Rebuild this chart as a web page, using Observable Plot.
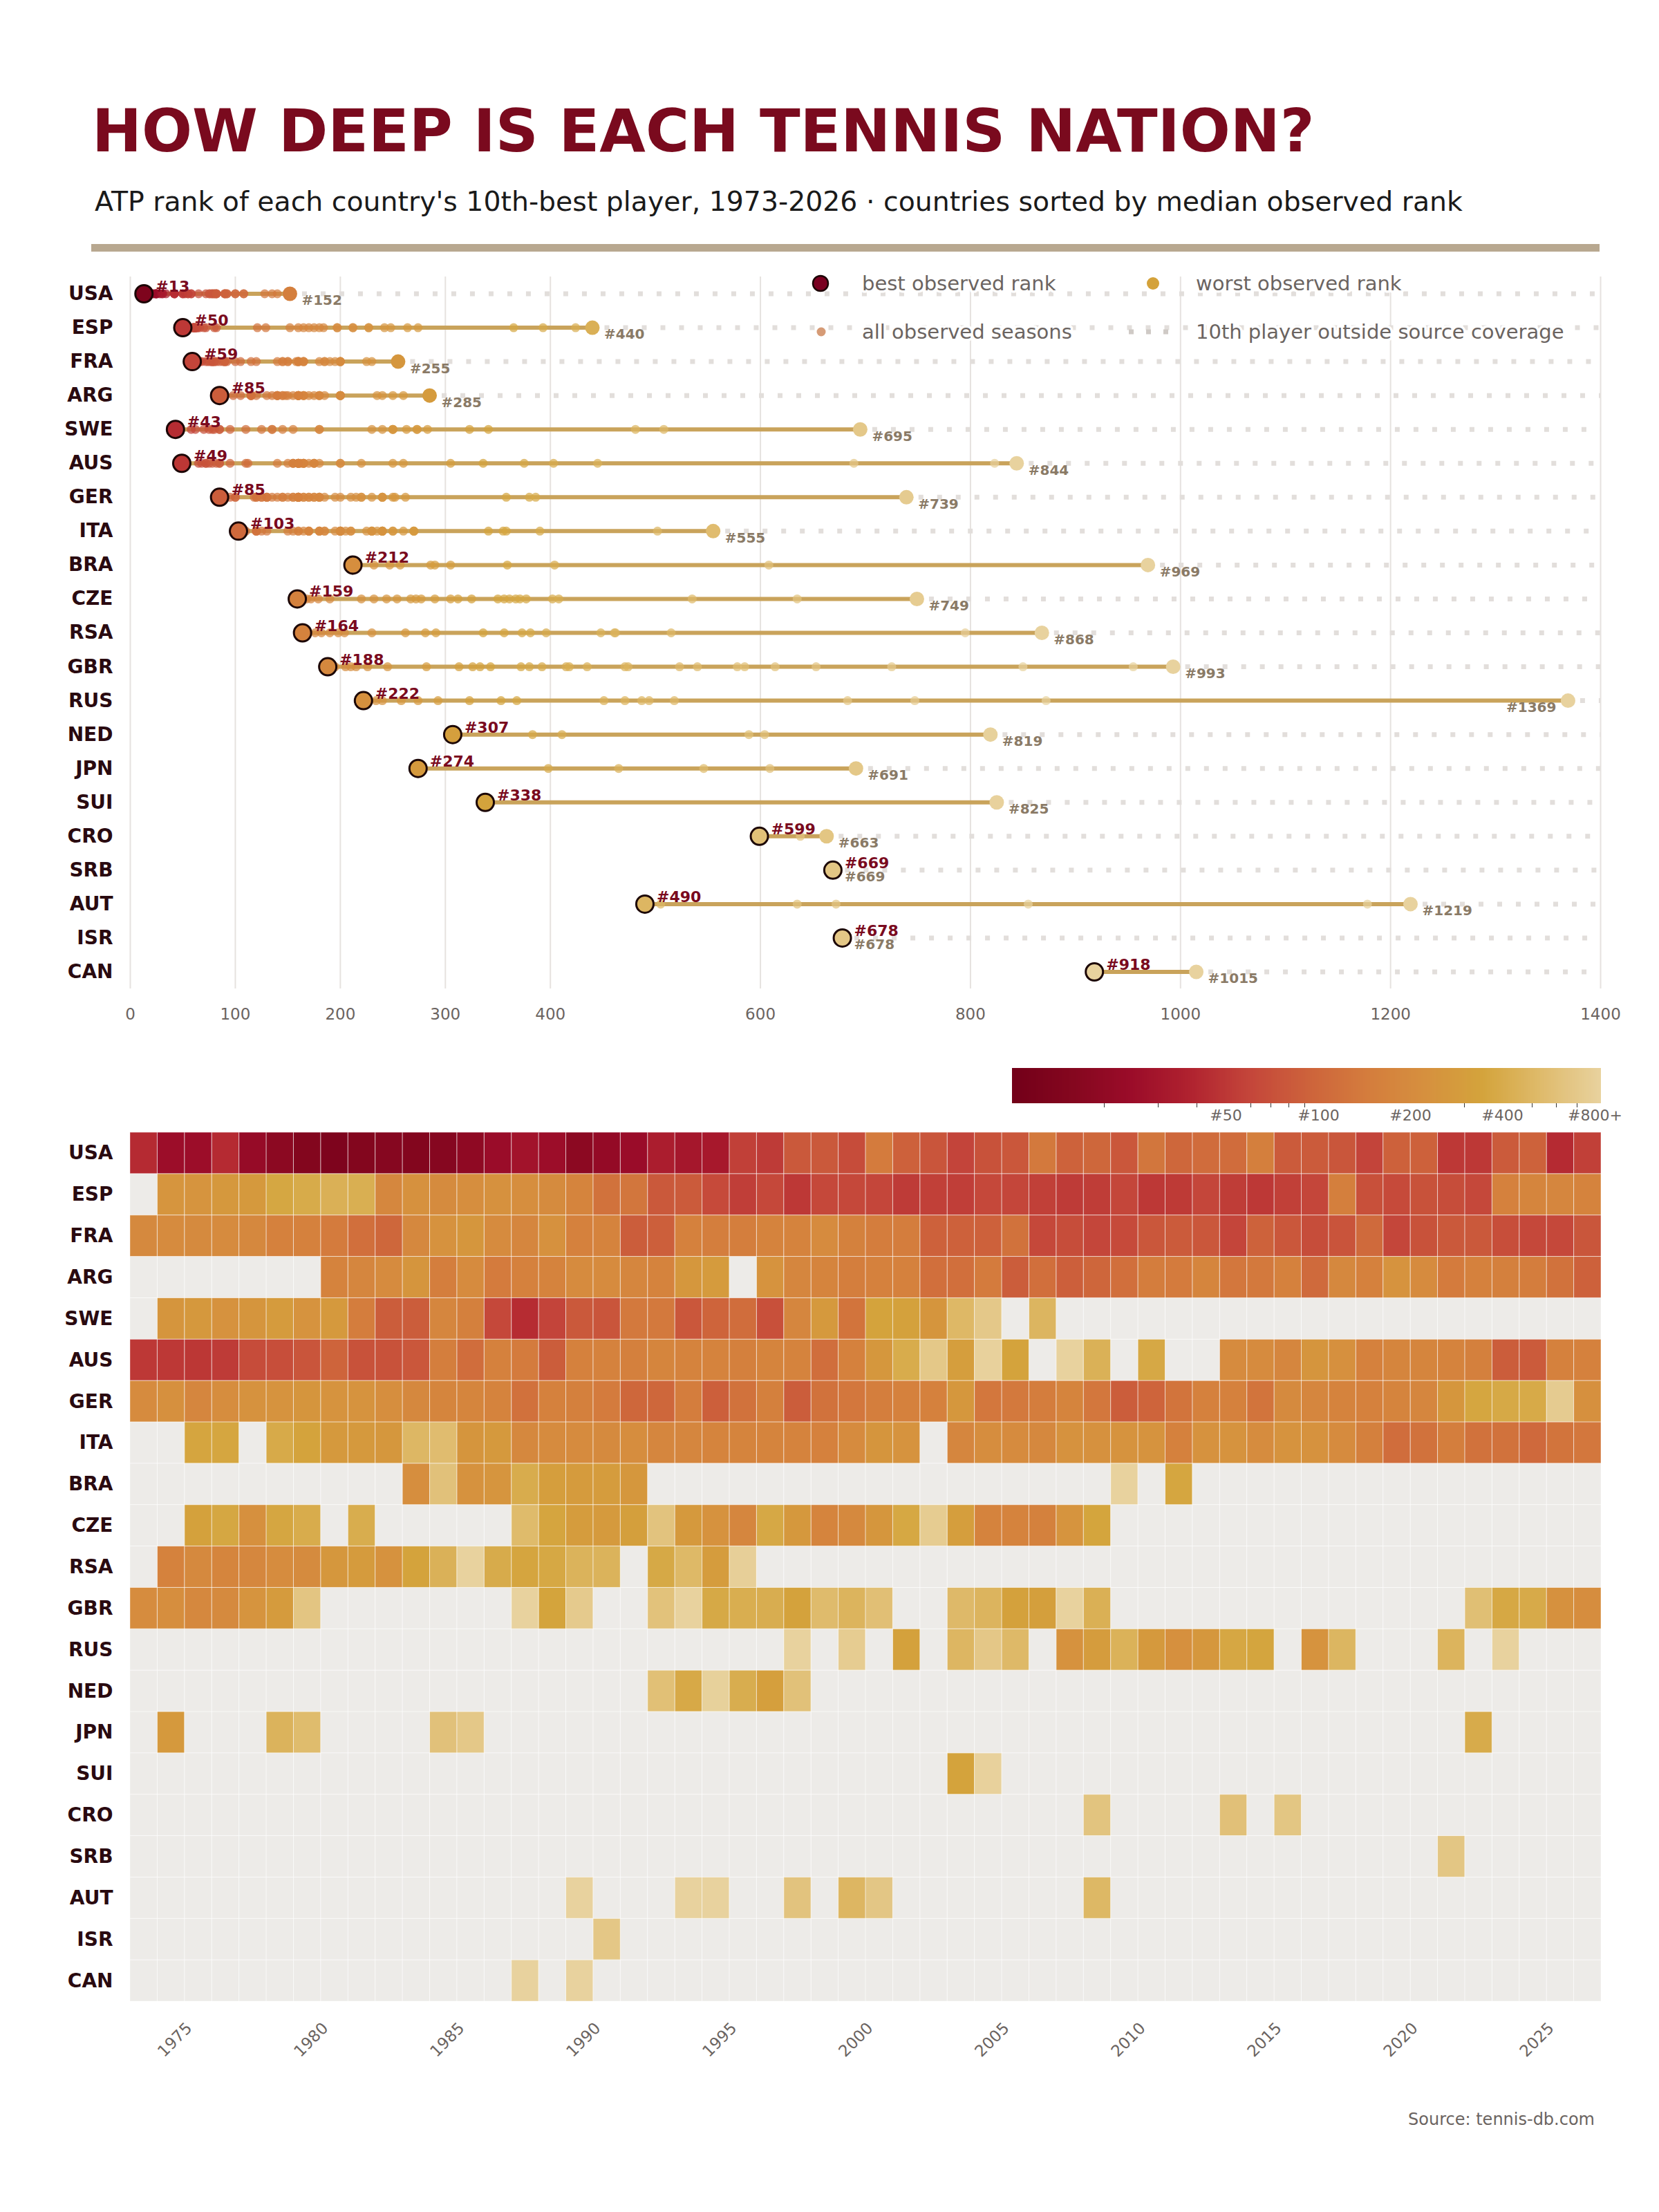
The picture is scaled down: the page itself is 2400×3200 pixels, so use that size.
<!DOCTYPE html>
<html><head><meta charset="utf-8">
<script src="https://cdn.jsdelivr.net/npm/d3@7"></script>
<script src="https://cdn.jsdelivr.net/npm/@observablehq/plot@0.6"></script>
<style>
html,body{margin:0;padding:0;background:#fff;}
#root{position:relative;width:2400px;height:3200px;font-family:"DejaVu Sans",sans-serif;overflow:hidden;}
.abs{position:absolute;left:0;}
</style></head><body><div id="root"></div>
<script>
const N = null;
const countries = ["USA","ESP","FRA","ARG","SWE","AUS","GER","ITA","BRA","CZE","RSA","GBR","RUS","NED","JPN","SUI","CRO","SRB","AUT","ISR","CAN"];
const years = [1973,1974,1975,1976,1977,1978,1979,1980,1981,1982,1983,1984,1985,1986,1987,1988,1989,1990,1991,1992,1993,1994,1995,1996,1997,1998,1999,2000,2001,2002,2003,2004,2005,2006,2007,2008,2009,2010,2011,2012,2013,2014,2015,2016,2017,2018,2019,2020,2021,2022,2023,2024,2025,2026];
const yearTicks = [1975,1980,1985,1990,1995,2000,2005,2010,2015,2020,2025];
const rankTicks = [0,100,200,300,400,600,800,1000,1200,1400];
const legendTicks = [20,30,40,50,60,70,80,90,100,200,300,400,500,600,700,800];
const legendLabels = [50,100,200,400,800];

// ATP rank of each country's 10th-best player, one entry per season 1973..2026 (null = outside source coverage)
const rankUSA = [42,25,25,42,22,18,15,13,15,16, 15,16,19,24,28,25,18,21,24,34, 30,31,55,52,80,80,65,140,90,75, 58,72,78,135,92,100,78,128,100,108, 108,152,82,82,76,58,90,90,50,50, 82,92,42,55];
const rankESP = [N,248,242,264,274,365,393,440,424,184, 227,197,212,227,212,197,170,121,129,80, 82,64,54,62,50,62,62,60,52,55, 54,62,60,55,52,53,60,50,51,60, 53,50,55,60,152,70,64,72,66,62, 160,175,180,165];
const rankFRA = [190,200,195,200,185,160,160,140,115,100, 185,230,255,200,180,225,160,165,85,88, 160,150,150,165,165,200,158,145,145,90, 90,90,120,62,66,60,64,78,82,78, 59,92,78,66,74,105,60,72,80,80, 68,62,62,76];
const rankARG = [N,N,N,N,N,N,N,165,180,200, 250,150,200,140,160,165,200,200,180,165, 260,285,N,235,180,170,148,160,160,115, 115,140,85,115,88,98,115,145,140,175, 130,135,160,105,185,160,240,200,140,160, 155,145,120,90];
const rankSWE = [N,250,263,230,250,283,240,273,145,85, 85,180,155,62,43,58,80,75,135,135, 78,95,110,70,180,273,125,341,323,250, 508,695,N,481,N,N,N,N,N,N, N,N,N,N,N,N,N,N,N,N, N,N,N,N];
const rankAUS = [50,50,49,52,65,68,75,95,72,72, 78,150,110,160,140,85,160,162,155,175, 165,165,155,170,165,112,160,260,403,689, 305,823,336,N,844,445,N,375,N,N, 200,200,180,250,220,160,175,175,165,155, 85,82,160,160];
const rankGER = [200,220,180,210,230,240,250,240,240,215, 185,175,175,165,118,160,155,140,100,100, 145,88,120,155,85,120,130,150,160,160, 262,130,135,145,170,130,85,95,125,160, 160,125,195,180,165,160,170,180,252,358, 380,386,739,220];
const rankITA = [N,N,355,358,N,390,341,270,270,260, 502,555,250,270,185,200,200,195,210,180, 180,170,170,170,165,160,200,250,240,N, 180,210,200,185,230,225,240,240,160,230, 235,205,240,230,200,155,110,120,150,120, 120,103,125,130];
const rankBRA = [N,N,N,N,N,N,N,N,N,N, 212,608,232,247,404,305,286,290,257,N, N,N,N,N,N,N,N,N,N,N, N,N,N,N,N,N,969,N,359,N, N,N,N,N,N,N,N,N,N,N, N,N,N,N];
const rankCZE = [N,N,325,367,220,361,402,N,408,N, N,N,N,N,535,356,290,277,312,635, 272,232,179,377,267,172,190,254,371,749, 305,165,168,159,244,350,N,N,N,N, N,N,N,N,N,N,N,N,N,N, N,N,N,N];
const rankRSA = [N,164,190,176,182,204,198,262,281,230, 336,448,868,396,356,373,461,462,N,381, 515,291,795,N,N,N,N,N,N,N, N,N,N,N,N,N,N,N,N,N, N,N,N,N,N,N,N,N,N,N, N,N,N,N];
const rankGBR = [205,215,188,195,245,282,653,N,N,N, N,N,N,N,955,343,725,N,N,614, 850,380,418,415,333,540,471,585,N,N, 523,474,326,313,993,435,N,N,N,N, N,N,N,N,N,N,N,N,N,578, 372,392,226,210];
const rankRUS = [N,N,N,N,N,N,N,N,N,N, N,N,N,N,N,N,N,N,N,N, N,N,N,N,872,N,747,N,323,N, 494,683,518,N,234,293,451,274,222,258, 368,353,N,240,487,N,N,N,471,N, 1369,N,N,N];
const rankNED = [N,N,N,N,N,N,N,N,N,N, N,N,N,N,N,N,N,N,N,589, 383,819,411,307,604,N,N,N,N,N, N,N,N,N,N,N,N,N,N,N, N,N,N,N,N,N,N,N,N,N, N,N,N,N];
const rankJPN = [N,274,N,N,N,465,546,N,N,N, N,609,691,N,N,N,N,N,N,N, N,N,N,N,N,N,N,N,N,N, N,N,N,N,N,N,N,N,N,N, N,N,N,N,N,N,N,N,N,398, N,N,N,N];
const rankSUI = [N,N,N,N,N,N,N,N,N,N, N,N,N,N,N,N,N,N,N,N, N,N,N,N,N,N,N,N,N,N, 338,825,N,N,N,N,N,N,N,N, N,N,N,N,N,N,N,N,N,N, N,N,N,N];
const rankCRO = [N,N,N,N,N,N,N,N,N,N, N,N,N,N,N,N,N,N,N,N, N,N,N,N,N,N,N,N,N,N, N,N,N,N,N,638,N,N,N,N, 599,N,663,N,N,N,N,N,N,N, N,N,N,N];
const rankSRB = [N,N,N,N,N,N,N,N,N,N, N,N,N,N,N,N,N,N,N,N, N,N,N,N,N,N,N,N,N,N, N,N,N,N,N,N,N,N,N,N, N,N,N,N,N,N,N,N,669,N, N,N,N,N];
const rankAUT = [N,N,N,N,N,N,N,N,N,N, N,N,N,N,N,N,855,N,N,N, 1178,1219,N,N,635,N,490,672,N,N, N,N,N,N,N,505,N,N,N,N, N,N,N,N,N,N,N,N,N,N, N,N,N,N];
const rankISR = [N,N,N,N,N,N,N,N,N,N, N,N,N,N,N,N,N,678,N,N, N,N,N,N,N,N,N,N,N,N, N,N,N,N,N,N,N,N,N,N, N,N,N,N,N,N,N,N,N,N, N,N,N,N];
const rankCAN = [N,N,N,N,N,N,N,N,N,N, N,N,N,N,918,N,1015,N,N,N, N,N,N,N,N,N,N,N,N,N, N,N,N,N,N,N,N,N,N,N, N,N,N,N,N,N,N,N,N,N, N,N,N,N];

const rankTable = {USA:rankUSA, ESP:rankESP, FRA:rankFRA, ARG:rankARG, SWE:rankSWE, AUS:rankAUS, GER:rankGER, ITA:rankITA, BRA:rankBRA, CZE:rankCZE, RSA:rankRSA, GBR:rankGBR, RUS:rankRUS, NED:rankNED, JPN:rankJPN, SUI:rankSUI, CRO:rankCRO, SRB:rankSRB, AUT:rankAUT, ISR:rankISR, CAN:rankCAN};

const cells = [];
countries.forEach(c => rankTable[c].forEach((r, i) => cells.push({country: c, year: years[i], rank: r})));
const observed = cells.filter(d => d.rank != null);
const summary = countries.map(c => {
  const v = rankTable[c].filter(r => r != null);
  return {country: c, best: d3.min(v), worst: d3.max(v)};
});

const FONT = "DejaVu Sans";
const rankMax = 1400;
const flipAt = 1300;
const stops = ["#730019","#85071f","#9b0c29","#b0222f","#c4453a","#cd623b","#d47c3d","#d6903e","#d4a43c","#dfbb6c","#e8d29e"];
const colorOpts = {type: "log", domain: [10, 840], clamp: true, interpolate: d3.piecewise(d3.interpolateRgb, stops)};

const root = document.getElementById("root");
function place(el, top, left = 0) {
  const div = document.createElement("div");
  div.className = "abs";
  div.style.top = top + "px";
  div.style.left = left + "px";
  div.appendChild(el);
  root.appendChild(div);
  return div;
}

// ---------- top chart: range of observed ranks ----------
const topPlot = Plot.plot({
  width: 2400, height: 1120,
  marginLeft: 188, marginRight: 85, marginTop: 30, marginBottom: 60,
  style: {fontFamily: FONT, background: "transparent", maxWidth: "none", overflow: "visible"},
  x: {domain: [0, rankMax], axis: null},
  y: {type: "band", domain: countries, axis: null, padding: 0, round: false},
  color: colorOpts,
  marks: [
    Plot.ruleX(rankTicks, {x: d => d, stroke: "#e6e2df", strokeWidth: 2}),
    Plot.ruleY(summary, {y: "country", x1: "worst", x2: () => rankMax, stroke: "#e2dedb", strokeWidth: 7, strokeDasharray: "7,20", strokeDashoffset: -18}),
    Plot.ruleY(summary, {y: "country", x1: "best", x2: "worst", stroke: "#c9a35b", strokeWidth: 6}),
    Plot.dot(observed, {x: "rank", y: "country", r: 6.5, fill: "rank", fillOpacity: 0.72}),
    Plot.dot(summary, {x: "worst", y: "country", r: 10.5, fill: "worst"}),
    Plot.dot(summary, {x: "best", y: "country", r: 12.5, fill: "best", stroke: "#1c0606", strokeWidth: 3}),
    Plot.text(summary, {x: "best", y: "country", text: d => "#" + d.best, dx: 17, dy: -10, textAnchor: "start", fill: "#7a0a1e", fontWeight: "bold", fontSize: 22}),
    Plot.text(summary, {filter: d => d.worst < flipAt, x: "worst", y: "country", text: d => "#" + d.worst, dx: 17, dy: 10, textAnchor: "start", fill: "#8a7a66", fontWeight: "bold", fontSize: 20}),
    Plot.text(summary, {filter: d => d.worst >= flipAt, x: "worst", y: "country", text: d => "#" + d.worst, dx: -17, dy: 10, textAnchor: "end", fill: "#8a7a66", fontWeight: "bold", fontSize: 20}),
    Plot.text(countries, {y: d => d, text: d => d, frameAnchor: "left", dx: -25, textAnchor: "end", fontWeight: "bold", fontSize: 28, fill: "#2a0a10"}),
    Plot.text(rankTicks, {x: d => d, text: d => String(d), frameAnchor: "bottom", lineAnchor: "top", dy: 28, fontSize: 23, fill: "#6b6461"})
  ]
});
place(topPlot, 370);

// ---------- colour legend ----------
const leg = Plot.legend({
  color: colorOpts, legend: "ramp",
  width: 902, height: 90, marginTop: 0, marginBottom: 39, marginLeft: 0, marginRight: 50,
  ticks: legendTicks, tickSize: 6, label: null,
  tickFormat: d => legendLabels.includes(d) ? (d === 800 ? "#800+" : "#" + d) : "",
  style: {fontFamily: FONT, fontSize: "22px", color: "#6b6461", background: "transparent", overflow: "visible", maxWidth: "none"}
});
d3.select(leg).selectAll(".tick").each(function() {
  const g = d3.select(this);
  const label = g.select("text").text();
  if (label) g.select("line").remove();
  else g.select("line").attr("y1", 0).attr("stroke", "#333");
});
place(leg, 1545, 1464);

// ---------- heatmap ----------
const heat = Plot.plot({
  width: 2400, height: 1367,
  marginLeft: 188, marginRight: 84, marginTop: 0, marginBottom: 110,
  style: {fontFamily: FONT, background: "transparent", maxWidth: "none", overflow: "visible"},
  x: {type: "band", domain: years, padding: 0, round: false, axis: null},
  y: {type: "band", domain: countries, padding: 0, round: false, axis: null},
  color: colorOpts,
  marks: [
    Plot.cell(cells, {x: "year", y: "country", fill: "#edebe8"}),
    Plot.cell(observed, {x: "year", y: "country", fill: "rank"}),
    Plot.cell(cells, {x: "year", y: "country", fill: "none", stroke: "#ffffff", strokeOpacity: 0.4, strokeWidth: 1}),
    Plot.text(countries, {y: d => d, text: d => d, frameAnchor: "left", dx: -25, textAnchor: "end", fontWeight: "bold", fontSize: 28, fill: "#2a0a10"}),
    Plot.text(yearTicks, {x: d => d, text: d => String(d), frameAnchor: "bottom", rotate: -45, textAnchor: "end", dx: -8, dy: 40, fontSize: 23, fill: "#6b6461"})
  ]
});
place(heat, 1638);

// ---------- overlay: title, legend, source ----------
const ov = d3.create("svg").attr("width", 2400).attr("height", 3200)
  .style("position", "absolute").style("left", "0px").style("top", "0px")
  .style("pointer-events", "none").attr("font-family", FONT);
ov.append("text").attr("x", 133).attr("y", 219).attr("font-size", 86).attr("font-weight", "bold")
  .attr("fill", "#7a0a1e").text("HOW DEEP IS EACH TENNIS NATION?");
ov.append("text").attr("x", 137).attr("y", 305).attr("font-size", 39.4).attr("fill", "#1a1a1a")
  .text("ATP rank of each country's 10th-best player, 1973-2026 \u00b7 countries sorted by median observed rank");
ov.append("rect").attr("x", 132).attr("y", 353).attr("width", 2182).attr("height", 11).attr("fill", "#b8a890");

const lg = ov.append("g");
function legText(x, y, s) {
  lg.append("text").attr("x", x).attr("y", y).attr("dy", "0.35em").attr("font-size", 29)
    .attr("fill", "#6b6461").attr("stroke", "#fff").attr("stroke-width", 7).attr("paint-order", "stroke")
    .attr("stroke-linejoin", "round").text(s);
}
lg.append("circle").attr("cx", 1187).attr("cy", 410).attr("r", 11).attr("fill", "#7a0020").attr("stroke", "#1c0606").attr("stroke-width", 2.5);
legText(1247, 410, "best observed rank");
lg.append("circle").attr("cx", 1668).attr("cy", 410).attr("r", 9).attr("fill", "#d4a23a");
legText(1730, 410, "worst observed rank");
lg.append("circle").attr("cx", 1188).attr("cy", 480).attr("r", 6.5).attr("fill", "#cf8a5e").attr("fill-opacity", 0.85);
legText(1247, 480, "all observed seasons");
lg.append("line").attr("x1", 1633).attr("x2", 1690).attr("y1", 480).attr("y2", 480)
  .attr("stroke", "#cfcac6").attr("stroke-width", 7).attr("stroke-dasharray", "7,18");
legText(1730, 480, "10th player outside source coverage");

ov.append("text").attr("x", 2307).attr("y", 3074).attr("text-anchor", "end").attr("font-size", 24)
  .attr("fill", "#6b6461").text("Source: tennis-db.com");
root.appendChild(ov.node());
</script>
</body></html>
